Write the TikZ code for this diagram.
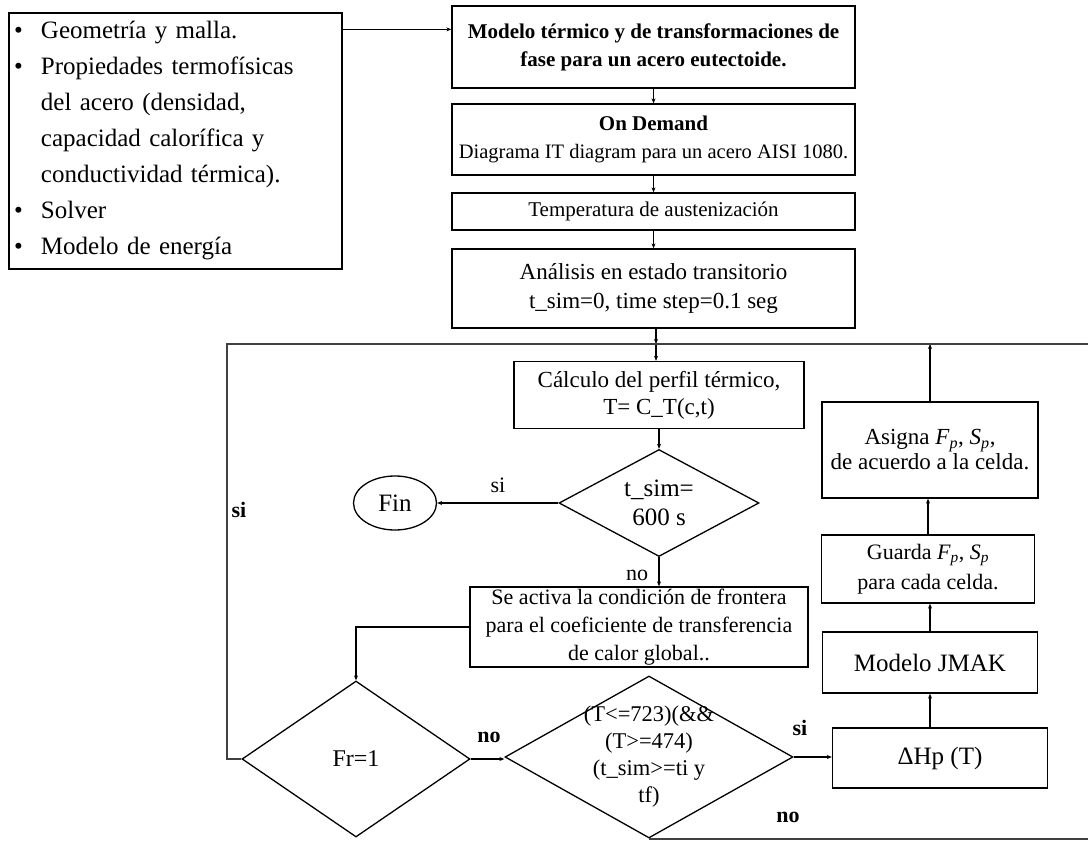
\documentclass[tikz,border=0pt]{standalone}
\usepackage{fontspec}
\setmainfont{Liberation Serif}
\usetikzlibrary{positioning,shapes.geometric,arrows.meta}
\newcommand{\fsz}[2]{\fontsize{#1}{#2}\selectfont}
\newcommand{\sub}[2]{\textit{#1}\textsubscript{\textit{#2}}}
\newcommand{\bul}{\makebox[27pt][l]{\textbullet}}
\newcommand{\ind}{\hspace*{27pt}}

\begin{document}
\begin{tikzpicture}[x=1pt,y=-1pt,
    proc/.style={draw=black,line width=1.3pt,inner xsep=2pt,inner ysep=0pt,align=center,font=\fsz{21}{28}},
    decision/.style={diamond,draw=black,line width=1.3pt,inner sep=0pt,align=center},
    arr/.style={line width=1.3pt,-{Stealth[length=5pt,width=4pt]}},
    loopline/.style={line width=1.7pt,draw=black!75},
    tag/.style={inner sep=0pt,font=\fsz{22}{26}},
    boldtag/.style={inner sep=0pt,font=\bfseries\fsz{22}{26}}
  ]
  \useasboundingbox (0,0) rectangle (1088,841);

  % datos de entrada
  \node[proc,align=left,text width=323,inner xsep=5pt,minimum height=256,font=\fsz{25}{36}] (ent) at (175.5,141)
    {\bul Geometría y malla.\\
     \bul Propiedades termofísicas\\
     \ind del acero (densidad,\\
     \ind capacidad calorífica y\\
     \ind conductividad térmica).\\
     \bul Solver\\
     \bul Modelo de energía};

  % columna principal
  \node[proc,minimum width=403,minimum height=82,font=\bfseries\fsz{21}{28}] (mod) at (653.5,47)
    {Modelo térmico y de transformaciones de\\fase para un acero eutectoide.};
  \node[proc,minimum width=403,minimum height=71,inner xsep=0pt] (dem) at (653.5,139.5)
    {\textbf{On Demand}\\{\fsz{20.5}{28}Diagrama IT diagram para un acero AISI 1080.}};
  \node[proc,minimum width=403,minimum height=37] (aus) at (653.5,211.5) {Temperatura de austenización};
  \node[proc,minimum width=403,minimum height=79,font=\fsz{23}{29}] (tra) at (653.5,288.5)
    {Análisis en estado transitorio\\t\_sim=0, time step=0.1 seg};

  % ciclo de calculo
  \node[proc,minimum width=290,minimum height=67,font=\fsz{23}{27}] (cal) at (659,395)
    {Cálculo del perfil térmico,\\T= C\_T(c,t)};
  \node[decision,shape aspect=1.87,minimum width=200,minimum height=107,font=\fsz{25}{29}] (tsm) at (659,503)
    {t\_sim=\\600 s};
  \node[ellipse,draw=black,line width=1.3pt,minimum width=83,minimum height=54,font=\fsz{25}{29}] (fin) at (395,503) {Fin};
  \node[proc,minimum width=338,minimum height=80,font=\fsz{22}{28}] (act) at (639,627)
    {Se activa la condición de frontera\\para el coeficiente de transferencia\\de calor global..};
  \node[decision,shape aspect=1.46,minimum width=228,minimum height=156,font=\fsz{24}{26}] (frd) at (356,759) {Fr=1};
  \node[decision,shape aspect=1.78,inner sep=-8pt,minimum width=288,minimum height=162,font=\fsz{22.5}{27}] (cnd) at (649,757)
    {(T<=723)(\&\&\\(T>=474)\\(t\_sim>=ti y\\tf)};

  % modelo de transformacion
  \node[proc,minimum width=215,minimum height=60,font=\fsz{25}{29}] (dhp) at (940,758) {ΔHp (T)};
  \node[proc,minimum width=215,minimum height=61,font=\fsz{25}{29}] (jmk) at (930,662.5) {Modelo JMAK};
  \node[proc,minimum width=213,minimum height=68,font=\fsz{22}{30}] (grd) at (928,569)
    {Guarda \sub{F}{p}, \sub{S}{p}\\para cada celda.};
  \node[proc,minimum width=216,minimum height=96,font=\fsz{23}{25}] (asg) at (930,450)
    {Asigna \sub{F}{p}, \sub{S}{p},\\de acuerdo a la celda.};

  % etiquetas
  \node[tag] (si1) at (498,485) {si};
  \node[tag] (no1) at (637,575) {no};
  \node[boldtag] (si2) at (239,510) {si};
  \node[boldtag] (no2) at (489,737) {no};
  \node[boldtag] (si3) at (800,728) {si};
  \node[boldtag] (no3) at (788,817) {no};

  \coordinate (tl) at (227,344);
  \coordinate (tr) at (1088,344);
  \coordinate (br) at (1088,838);
  \coordinate (jn) at (656,344);

  % conectores
  \draw[arr] ([yshift=-17pt]ent.north east) -- ([yshift=-24pt]mod.north west);
  \foreach \a/\b in {mod/dem,dem/aus,aus/tra}
    \draw[arr] (\a) -- (\b);
  \draw[arr] (tra.south -| jn) -- (jn);
  \draw[arr] (jn) -- (jn |- cal.north);
  \draw[arr] (cal) -- (tsm);
  \draw[arr] (tsm) -- (fin);
  \draw[arr] (tsm.south) -- (tsm.south |- act.north);
  \draw[arr] (act.west) -| (frd.north);
  \draw[arr] (frd.east) -- (frd.east -| cnd.west);
  \draw[arr] (cnd.east) -- (cnd.east -| dhp.west);
  \draw[arr] (dhp.north -| jmk) -- (jmk);
  \foreach \a/\b in {jmk/grd,grd/asg}
    \draw[arr] (\a) -- (\a |- \b.south);
  \draw[arr] (asg) -- (asg |- tl);
  \draw[loopline] (frd.west) -- (frd.west -| tl) -- (tl) -- (tr);
  \draw[loopline] (cnd.south) -- (cnd.south -| br);
\end{tikzpicture}
\end{document}
